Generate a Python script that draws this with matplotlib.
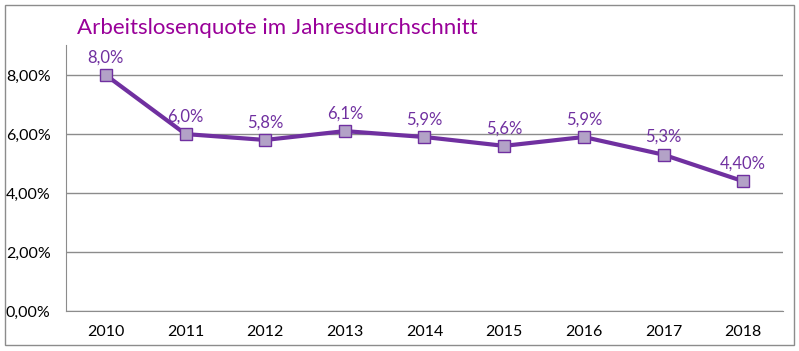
import matplotlib
matplotlib.use("Agg")
import matplotlib.pyplot as plt
from matplotlib.patches import Rectangle

years = ["2010", "2011", "2012", "2013", "2014", "2015", "2016", "2017", "2018"]
quote = [8.0, 6.0, 5.8, 6.1, 5.9, 5.6, 5.9, 5.3, 4.4]
labels = ["8,0%", "6,0%", "5,8%", "6,1%", "5,9%", "5,6%", "5,9%", "5,3%", "4,40%"]
yticks = [0, 2, 4, 6, 8]
yticklabels = ["0,00%", "2,00%", "4,00%", "6,00%", "8,00%"]

plt.rcParams['font.family'] = ['Lato', 'DejaVu Sans']
grey = "#8c8c8c"
purple = "#7030A0"

fig = plt.figure(figsize=(7.99, 3.51), dpi=100)
fig.patches.append(Rectangle((5 / 799, 6 / 351), 789 / 799, 340 / 351, transform=fig.transFigure,
                             fill=False, edgecolor=grey, linewidth=1))
ax = fig.add_axes([66 / 799, 40 / 351, 717 / 799, 266 / 351])

x = list(range(len(years)))
ax.plot(x, quote, color=purple, linewidth=3, marker="s", markersize=8,
        markerfacecolor="#B3A2C7", markeredgecolor=purple, markeredgewidth=1, zorder=3)
for xi, v, lab in zip(x, quote, labels):
    ax.annotate(lab, (xi, v), xytext=(0, 7), textcoords="offset points",
                ha="center", va="bottom", color=purple, fontsize=12)

ax.set_xlim(-0.5, 8.5)
ax.set_ylim(0, 9.02)
ax.set_xticks(x)
ax.set_xticklabels(years)
ax.set_yticks(yticks)
ax.set_yticklabels(yticklabels)
ax.tick_params(length=0, labelsize=11.5, colors="black", pad=10)
ax.tick_params(axis="y", pad=11)
ax.grid(axis="y", color=grey, linewidth=1)
ax.set_axisbelow(True)
for s in ["top", "right"]:
    ax.spines[s].set_visible(False)
for s in ["left", "bottom"]:
    ax.spines[s].set_color(grey)

fig.text(77 / 799, 1 - 28 / 351, "Arbeitslosenquote im Jahresdurchschnitt", color="#990099",
         fontsize=16, ha="left", va="center")

fig.savefig("out.png", dpi=100)
